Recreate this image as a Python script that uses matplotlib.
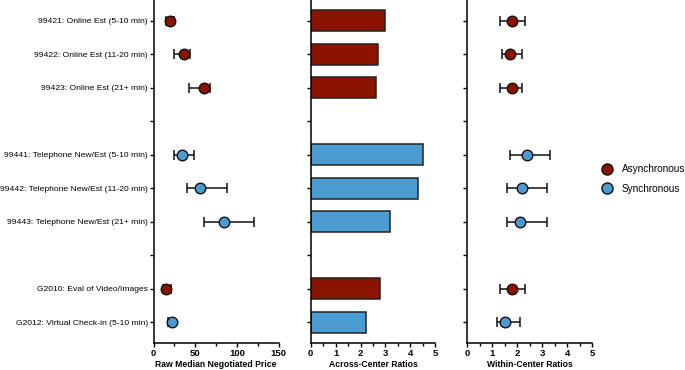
import matplotlib.pyplot as plt
from matplotlib.lines import Line2D
from matplotlib.ticker import MultipleLocator

plt.rcParams['font.family'] = ['Liberation Sans', 'DejaVu Sans']

# ==============================
# DATOS
# ==============================
labels = ["99421: Online Est (5-10 min)", "99422: Online Est (11-20 min)",
          "99423: Online Est (21+ min)", "",
          "99441: Telephone New/Est (5-10 min)", "99442: Telephone New/Est (11-20 min)",
          "99443: Telephone New/Est (21+ min)", "",
          "G2010: Eval of Video/Images", "G2012: Virtual Check-in (5-10 min)"]
rows = [0, 1, 2, 4, 5, 6, 8, 9]
tipo = ["A", "A", "A", "S", "S", "S", "A", "S"]

price = [20, 36, 60, 34, 56, 85, 15.5, 22]
price_lo = [15, 24, 43, 25, 40, 60, 11, 17]
price_hi = [24, 44, 68, 49, 88, 121, 21, 23]

across = [3.0, 2.7, 2.6, 4.5, 4.3, 3.2, 2.8, 2.2]

within = [1.8, 1.7, 1.8, 2.4, 2.2, 2.1, 1.8, 1.5]
within_lo = [1.3, 1.4, 1.3, 1.7, 1.6, 1.6, 1.3, 1.2]
within_hi = [2.3, 2.2, 2.2, 3.3, 3.2, 3.2, 2.3, 2.1]

RED = "#8b1400"
BLUE = "#4b9bd0"
colores = [RED if t == "A" else BLUE for t in tipo]

fig = plt.figure(figsize=(6.85, 3.7), dpi=100)
ax1 = fig.add_axes([0.2241, 0.073, 0.1825, 0.927])
ax2 = fig.add_axes([0.4536, 0.073, 0.1819, 0.927])
ax3 = fig.add_axes([0.6822, 0.073, 0.1825, 0.927])


def puntos(ax, vals, lo, hi):
    for y, v, l, h, c in zip(rows, vals, lo, hi, colores):
        ax.errorbar(v, y, xerr=[[v - l], [h - v]], fmt='none', ecolor='#111111',
                    elinewidth=1.1, capsize=3.6, capthick=1.1, zorder=2)
        ax.plot(v, y, 'o', color=c, markersize=7.6, markeredgecolor='#111111',
                markeredgewidth=1.0, zorder=3)


puntos(ax1, price, price_lo, price_hi)
ax2.barh(rows, across, height=0.64, color=colores, edgecolor='#222222', linewidth=1.1)
puntos(ax3, within, within_lo, within_hi)

for ax, xmax, major, minor, xlabel in [
        (ax1, 150, 50, 25, "Raw Median Negotiated Price"),
        (ax2, 5, 1, 0.5, "Across-Center Ratios"),
        (ax3, 5, 1, 0.5, "Within-Center Ratios")]:
    ax.set_xlim(0, xmax)
    ax.set_ylim(9.62, -0.62)
    ax.xaxis.set_major_locator(MultipleLocator(major))
    ax.xaxis.set_minor_locator(MultipleLocator(minor))
    ax.set_yticks(range(10))
    ax.spines['top'].set_visible(False)
    ax.spines['right'].set_visible(False)
    ax.spines['left'].set_linewidth(1.1)
    ax.spines['bottom'].set_linewidth(1.1)
    ax.tick_params(axis='both', which='major', length=3, width=1.0, labelsize=6.8, pad=1.5)
    ax.tick_params(axis='x', which='minor', length=2, width=1.0)
    for t in ax.get_xticklabels():
        t.set_fontweight('bold')
    ax.set_xlabel(xlabel, fontsize=6.2, fontweight='bold', labelpad=1.5)

ax1.set_yticklabels(labels, fontsize=6.1)
ax1.tick_params(axis='y', pad=1)
ax2.set_yticklabels([])
ax3.set_yticklabels([])

handles = [Line2D([], [], marker='o', linestyle='none', color=RED, markersize=8,
                  markeredgecolor='#111111', markeredgewidth=1.0, label="Asynchronous"),
           Line2D([], [], marker='o', linestyle='none', color=BLUE, markersize=8,
                  markeredgecolor='#111111', markeredgewidth=1.0, label="Synchronous")]
fig.legend(handles=handles, loc='center left', bbox_to_anchor=(0.877, 0.516),
           frameon=False, fontsize=7.2, handletextpad=0.9, labelspacing=0.95,
           handlelength=1.2, borderaxespad=0, borderpad=0)

fig.savefig("out.png", dpi=100)
